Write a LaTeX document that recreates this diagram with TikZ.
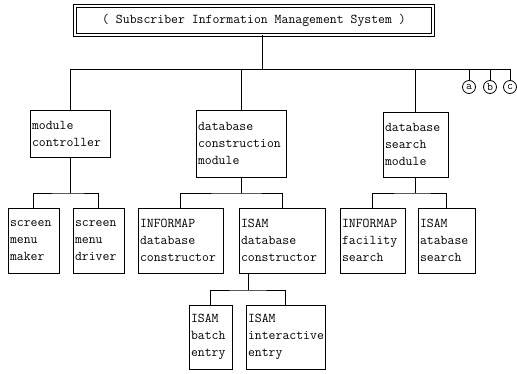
\documentclass[tikz,border=0pt]{standalone}
\usepackage{fontspec}
\usetikzlibrary{calc}
\begin{document}
\begin{tikzpicture}[x=1pt,y=-1pt,line width=0.9pt,
  font=\ttfamily\fontsize{13.4}{17}\selectfont,
  modbox/.style={draw,align=left,inner xsep=2pt,inner ysep=0pt},
  letter/.style={draw,circle,inner sep=0pt,minimum size=13pt,line width=0.8pt,
    font=\ttfamily\fontsize{11.5}{11.5}\selectfont}]
\useasboundingbox (0,0) rectangle (517,373);
\node[draw,double,double distance=2pt,minimum width=358,minimum height=29] (title) at (254,20.5)
  {( Subscriber Information Management System )};
\node[modbox,text width=76,minimum height=47] (ctrl) at (70,133.5) {module\\controller};
\node[modbox,text width=86,minimum height=67] (build) at (241,143.5) {database\\construction\\module};
\node[modbox,text width=61,minimum height=65] (search) at (415.5,144.5) {database\\search\\module};
\node[modbox,text width=47,minimum height=65] (maker) at (33.5,240.5) {screen\\menu\\maker};
\node[modbox,text width=47,minimum height=65] (driver) at (98.5,240.5) {screen\\menu\\driver};
\node[modbox,text width=81,minimum height=65] (infocons) at (180.5,240.5) {INFORMAP\\database\\constructor};
\node[modbox,text width=82,minimum height=65] (isamcons) at (282,240.5) {ISAM\\database\\constructor};
\node[modbox,text width=61,minimum height=65] (infosrch) at (372.5,240.5) {INFORMAP\\facility\\search};
\node[modbox,text width=53,minimum height=65] (isamsrch) at (446.5,240.5) {ISAM\\atabase\\search};
\node[modbox,text width=39,minimum height=64] (batch) at (210.5,337) {ISAM\\batch\\entry};
\node[modbox,text width=75,minimum height=64] (inter) at (285.5,337) {ISAM\\interactive\\entry};
\node[letter] (la) at (469,87) {a};
\node[letter] (lb) at (490,87) {b};
\node[letter] (lc) at (510,87) {c};
\coordinate (bus) at (262,69);
\coordinate (sub) at (0,193);
\coordinate (subb) at (0,290);
\draw (title.south -| bus) -- (bus);
\draw (ctrl.north) -- (ctrl.north |- bus) -- (lc.north |- bus) -- (lc.north);
\draw (build.north) -- (build.north |- bus);
\draw (search.north) -- (search.north |- bus);
\draw (la.north) -- (la.north |- bus);
\draw (lb.north) -- (lb.north |- bus);
\foreach \p/\a/\b in {ctrl/maker/driver,build/infocons/isamcons,search/infosrch/isamsrch}{
  \draw (\p.south) -- (\p.south |- sub);
  \draw (\a.north) |- (\p.south |- sub) -| (\b.north);
}
\coordinate (mid) at ($(batch.north)!.5!(inter.north)$);
\draw (mid |- isamcons.south) -- (mid |- subb);
\draw (batch.north) |- (mid |- subb) -| (inter.north);
\end{tikzpicture}
\end{document}
